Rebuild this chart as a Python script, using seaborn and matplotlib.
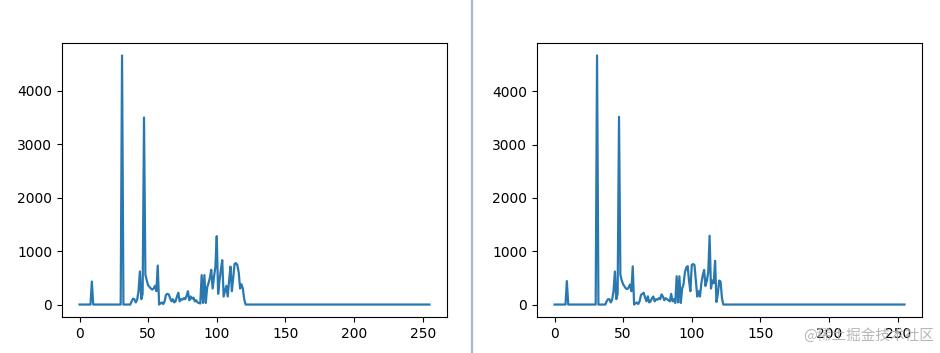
import matplotlib
matplotlib.use("Agg")
import matplotlib.pyplot as plt
import seaborn as sns
import numpy as np
from matplotlib.lines import Line2D

# ---- data (histogram counts per grey level) ----
bins = list(range(256))

left_counts = (
    [0] * 9 + [430] + [0] * 21 + [4660] + [0] * 6 +
    [60, 110, 100, 40, 90, 250, 620, 100, 200, 3500,          # 38-47
     560, 450, 360, 330, 300, 280, 300, 350, 250, 730,        # 48-57
     0, 20, 40, 10, 60, 180, 200, 190, 120, 60,               # 58-67
     100, 40, 60, 150, 220, 60, 100, 90, 120, 100,            # 68-77
     160, 250, 80, 150, 110, 130, 60, 80, 40, 30,             # 78-87
     20, 550, 30, 550, 30, 320, 400, 500, 650, 300,           # 88-97
     520, 700, 1280, 200, 450, 650, 830, 150, 250, 350,       # 98-107
     150, 450, 710, 250, 500, 760, 775, 740, 600, 300,        # 108-117
     380, 300, 100, 0, 0] +                                   # 118-122
    [0] * 133
)

right_counts = (
    [0] * 9 + [440] + [0] * 21 + [4670] + [0] * 6 +
    [60, 100, 100, 40, 90, 250, 620, 100, 200, 3520,          # 38-47
     560, 450, 380, 340, 300, 290, 320, 375, 250, 717,        # 48-57
     0, 20, 40, 10, 60, 180, 200, 220, 130, 60,               # 58-67
     155, 40, 60, 120, 150, 60, 100, 90, 120, 100,            # 68-77
     190, 150, 80, 120, 100, 80, 60, 200, 60, 100,            # 78-87
     30, 530, 40, 530, 30, 300, 380, 600, 690, 720,           # 88-97
     450, 250, 740, 760, 740, 450, 150, 250, 150, 400,        # 98-107
     550, 650, 350, 450, 600, 1290, 300, 450, 400, 820,       # 108-117
     50, 200, 450, 430, 120, 0] +                             # 118-123
    [0] * 132
)

# ---- figure ----
W, H = 940, 353
fig = plt.figure(figsize=(W / 100, H / 100), dpi=100)
fig.patch.set_facecolor("white")

def add_axes_px(x0, y0, x1, y1):
    return fig.add_axes([x0 / W, 1 - y1 / H, (x1 - x0) / W, (y1 - y0) / H])

ax1 = add_axes_px(62, 43, 447, 317)
ax2 = add_axes_px(537, 43, 922, 317)

for ax, counts in ((ax1, left_counts), (ax2, right_counts)):
    sns.lineplot(x=bins, y=counts, ax=ax, color="#2a78b0", linewidth=1.6)
    ax.set_xticks([0, 50, 100, 150, 200, 250])
    ax.set_yticks([0, 1000, 2000, 3000, 4000])
    ax.tick_params(labelsize=10)
    ax.set_xlabel("")
    ax.set_ylabel("")

# divider between the two screenshots
fig.add_artist(Line2D([472.5 / W, 472.5 / W], [0, 1], color="#a8b8cc", linewidth=1.6))

# watermark
fig.text(934 / W, 1 - 335 / H, "@稀土掘金技术社区", ha="right", va="center",
         fontsize=10.5, color="#b0b0b0", alpha=0.9,
         family=["Noto Sans CJK SC", "DejaVu Sans"])

fig.savefig("out.png", dpi=100)
